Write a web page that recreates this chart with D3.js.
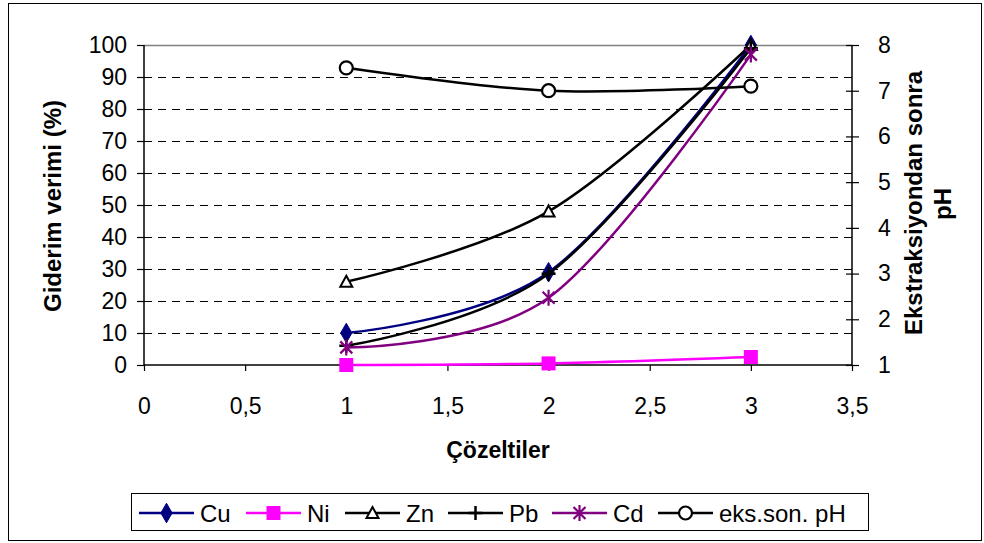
<!DOCTYPE html>
<html>
<head>
<meta charset="utf-8">
<script src="https://cdn.jsdelivr.net/npm/d3@7/dist/d3.min.js"></script>
<style>
  html, body { margin: 0; padding: 0; background: #fff; }
  svg text { font-family: "Liberation Sans", Arial, sans-serif; fill: #000; }
</style>
</head>
<body>
<svg id="chart" width="984" height="543"></svg>
<script>
// Solutions on the x axis
const solutions = [1, 2, 3];
// Removal efficiency (%) per metal
const cu = [10, 29, 100];
const ni = [0, 0.5, 2.5];
const zn = [26, 48, 100];
const pb = [6, 28.5, 99];
const cd = [5.5, 21, 97];
// pH after extraction (right axis)
const phAfter = [7.5, 7.0, 7.1];

const xTicks = [0, 0.5, 1, 1.5, 2, 2.5, 3, 3.5];
const yLeftTicks = [0, 10, 20, 30, 40, 50, 60, 70, 80, 90, 100];
const yRightTicks = [1, 2, 3, 4, 5, 6, 7, 8];

const svg = d3.select("#chart");
const plot = { left: 144, right: 852, top: 45, bottom: 365 };

const x = d3.scaleLinear().domain([0, 3.5]).range([plot.left, plot.right]);
const yL = d3.scaleLinear().domain([0, 100]).range([plot.bottom, plot.top]);
const yR = d3.scaleLinear().domain([1, 8]).range([plot.bottom, plot.top]);

const fmt = d => String(d).replace(".", ",");

// outer frame
svg.append("rect").attr("x", 8.5).attr("y", 3.5).attr("width", 973).attr("height", 537)
  .attr("fill", "#fff").attr("stroke", "#000").attr("stroke-width", 1);

// dashed horizontal gridlines
svg.append("g").selectAll("line").data(yLeftTicks.filter(d => d > 0 && d < 100)).join("line")
  .attr("x1", plot.left).attr("x2", plot.right)
  .attr("y1", d => Math.round(yL(d)) + 0.5).attr("y2", d => Math.round(yL(d)) + 0.5)
  .attr("stroke", "#000").attr("stroke-width", 1).attr("stroke-dasharray", "8,6");

// top border of plot area
svg.append("line").attr("x1", plot.left).attr("x2", plot.right)
  .attr("y1", plot.top + 0.5).attr("y2", plot.top + 0.5)
  .attr("stroke", "#808080").attr("stroke-width", 1.5);

const tickFont = "23px";

// left axis
const axL = svg.append("g").attr("transform", `translate(${plot.left},0)`)
  .call(d3.axisLeft(yL).tickValues(yLeftTicks).tickSize(7).tickPadding(10).tickFormat(fmt));
// right axis
const axR = svg.append("g").attr("transform", `translate(${plot.right},0)`)
  .call(d3.axisRight(yR).tickValues(yRightTicks).tickSize(7).tickPadding(19).tickFormat(fmt));
axR.selectAll(".tick line").attr("x1", -6);
// bottom axis
const axB = svg.append("g").attr("transform", `translate(0,${plot.bottom})`)
  .call(d3.axisBottom(x).tickValues(xTicks).tickSize(6).tickPadding(27).tickFormat(fmt));

[axL, axR, axB].forEach(a => {
  a.select(".domain").attr("stroke", "#000").attr("stroke-width", 1.5);
  a.selectAll(".tick line").attr("stroke", "#000").attr("stroke-width", 1.2);
  a.selectAll(".tick text").style("font-size", tickFont)
    .style("font-family", "'Liberation Sans', Arial, sans-serif").attr("fill", "#000");
});
axL.select(".domain").attr("d", `M0,${plot.bottom}V${plot.top}`);
axR.select(".domain").attr("d", `M0,${plot.bottom}V${plot.top}`);
axB.select(".domain").attr("d", `M${plot.left},0H${plot.right}`);

// axis titles
svg.append("text").attr("transform", `translate(61,206) rotate(-90)`)
  .attr("text-anchor", "middle").style("font-size", "24px").style("font-weight", "bold")
  .text("Giderim verimi (%)");
svg.append("text").attr("transform", `translate(922,203) rotate(-90)`)
  .attr("text-anchor", "middle").style("font-size", "24px").style("font-weight", "bold")
  .text("Ekstraksiyondan sonra");
svg.append("text").attr("transform", `translate(951,204) rotate(-90)`)
  .attr("text-anchor", "middle").style("font-size", "24px").style("font-weight", "bold")
  .text("pH");
svg.append("text").attr("x", 498).attr("y", 458)
  .attr("text-anchor", "middle").style("font-size", "23px").style("font-weight", "bold")
  .text("Çözeltiler");

// marker shapes
function drawMarker(g, type, color, cx, cy) {
  if (type === "diamond") {
    g.append("path").attr("d", d3.symbol(d3.symbolDiamond, 110)())
      .attr("transform", `translate(${cx},${cy})`).attr("fill", color).attr("stroke", color);
  } else if (type === "square") {
    g.append("rect").attr("x", cx - 7).attr("y", cy - 7).attr("width", 14).attr("height", 14)
      .attr("fill", color);
  } else if (type === "triangle") {
    g.append("path").attr("d", `M${cx},${cy - 6}L${cx + 6},${cy + 5}L${cx - 6},${cy + 5}Z`)
      .attr("fill", "#fff").attr("stroke", color).attr("stroke-width", 2);
  } else if (type === "plus") {
    g.append("path").attr("d", `M${cx - 7},${cy}H${cx + 7}M${cx},${cy - 7}V${cy + 7}`)
      .attr("stroke", color).attr("stroke-width", 2.5).attr("fill", "none");
  } else if (type === "star") {
    g.append("path").attr("d",
      `M${cx - 6},${cy - 6}L${cx + 6},${cy + 6}M${cx + 6},${cy - 6}L${cx - 6},${cy + 6}M${cx},${cy - 8}V${cy + 8}`)
      .attr("stroke", color).attr("stroke-width", 2.2).attr("fill", "none");
  } else if (type === "circle") {
    g.append("circle").attr("cx", cx).attr("cy", cy).attr("r", 6.5)
      .attr("fill", "#fff").attr("stroke", color).attr("stroke-width", 2.2);
  }
}

const series = [
  { name: "Cu", values: cu, color: "#000080", marker: "diamond", y: yL },
  { name: "Ni", values: ni, color: "#FF00FF", marker: "square", y: yL },
  { name: "Zn", values: zn, color: "#000000", marker: "triangle", y: yL },
  { name: "Pb", values: pb, color: "#000000", marker: "plus", y: yL },
  { name: "Cd", values: cd, color: "#800080", marker: "star", y: yL },
  { name: "eks.son. pH", values: phAfter, color: "#000000", marker: "circle", y: yR }
];

const gSeries = svg.append("g");
series.forEach(s => {
  const pts = solutions.map((c, i) => [x(c), s.y(s.values[i])]);
  const line = d3.line().curve(d3.curveCatmullRom.alpha(0));
  const g = gSeries.append("g");
  g.append("path").attr("d", line(pts)).attr("fill", "none")
    .attr("stroke", s.color).attr("stroke-width", 2.5);
  pts.forEach(p => drawMarker(g, s.marker, s.color, p[0], p[1]));
});

// legend
const lg = svg.append("g");
lg.append("rect").attr("x", 131.5).attr("y", 493.5).attr("width", 737).attr("height", 37)
  .attr("fill", "#fff").attr("stroke", "#000").attr("stroke-width", 1);
const legendX = [139, 246, 345, 448, 552, 658];
series.forEach((s, i) => {
  const lx = legendX[i], ly = 513;
  lg.append("line").attr("x1", lx).attr("x2", lx + 55).attr("y1", ly).attr("y2", ly)
    .attr("stroke", s.color).attr("stroke-width", 2.5);
  drawMarker(lg, s.marker, s.color, lx + 27.5, ly);
  lg.append("text").attr("x", lx + 61).attr("y", ly + 8.5)
    .style("font-size", "24px").text(s.name);
});
</script>
</body>
</html>
